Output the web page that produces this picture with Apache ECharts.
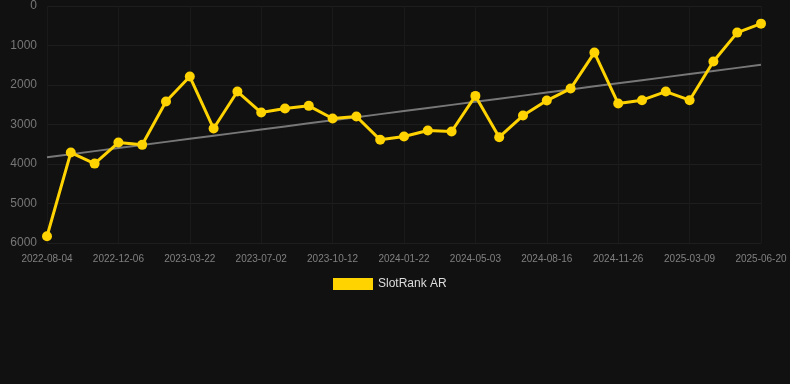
<!DOCTYPE html>
<html>
<head>
<meta charset="utf-8">
<script src="https://cdn.jsdelivr.net/npm/echarts@6/dist/echarts.min.js"></script>
<style>
    html, body { margin: 0; padding: 0; background: #111111; }
    #chart { width: 790px; height: 384px; }
</style>
</head>
<body>
<div id="chart"></div>
<script>
    var dates = [
        '2022-08-04', '2022-09-15', '2022-10-27',
        '2022-12-06', '2023-01-10', '2023-02-14',
        '2023-03-22', '2023-04-25', '2023-05-28',
        '2023-07-02', '2023-08-05', '2023-09-08',
        '2023-10-12', '2023-11-15', '2023-12-19',
        '2024-01-22', '2024-02-25', '2024-03-30',
        '2024-05-03', '2024-06-06', '2024-07-11',
        '2024-08-16', '2024-09-19', '2024-10-23',
        '2024-11-26', '2024-12-30', '2025-02-02',
        '2025-03-09', '2025-04-12', '2025-05-16',
        '2025-06-20'
    ];
    var ranks = [
        5830, 3710, 3990,
        3456, 3515, 2419,
        1787, 3102, 2166,
        2697, 2596, 2528,
        2849, 2798, 3388,
        3304, 3152, 3178,
        2276, 3321, 2773,
        2394, 2090, 1180,
        2469, 2385, 2166,
        2385, 1407, 674,
        447
    ];
    var yTicks = [0, 1000, 2000, 3000, 4000, 5000, 6000];

    // least squares trend over the index
    var n = ranks.length, sx = 0, sy = 0, sxy = 0, sxx = 0;
    for (var i = 0; i < n; i++) {
        sx += i; sy += ranks[i]; sxy += i * ranks[i]; sxx += i * i;
    }
    var slope = (n * sxy - sx * sy) / (n * sxx - sx * sx);
    var icpt = (sy - slope * sx) / n;
    var trend = ranks.map(function(v, i) { return +(icpt + slope * i).toFixed(1); });

    var myChart = echarts.init(document.getElementById('chart'));
    var option = {
        backgroundColor: '#111111',
        animation: false,
        textStyle: { fontFamily: 'Liberation Sans, Arial, sans-serif' },
        grid: { left: 47, right: 29, top: 6, bottom: 141 },
        legend: {
            data: ['SlotRank AR'],
            top: 278,
            left: 333,
            icon: 'rect',
            itemWidth: 40,
            itemHeight: 12,
            itemGap: 10,
            padding: 0,
            textStyle: { color: '#dddddd', fontSize: 12 }
        },
        xAxis: {
            type: 'category',
            data: dates,
            boundaryGap: false,
            axisLine: { show: false },
            axisTick: { show: false },
            axisLabel: { color: '#808080', fontSize: 10, interval: 2, margin: 11 },
            splitLine: { show: true, interval: 2, lineStyle: { color: '#1a1a1a' } }
        },
        yAxis: {
            type: 'value',
            inverse: true,
            min: yTicks[0],
            max: yTicks[yTicks.length - 1],
            interval: 1000,
            axisLine: { show: false },
            axisTick: { show: false },
            axisLabel: {
                color: '#777777',
                fontSize: 12,
                margin: 10,
                formatter: function(v) { return String(v); }
            },
            splitLine: { lineStyle: { color: '#1e1e1e' } }
        },
        series: [
            {
                name: 'Trend',
                type: 'line',
                data: trend,
                symbol: 'none',
                silent: true,
                lineStyle: { color: '#777777', width: 2 },
                z: 1
            },
            {
                name: 'SlotRank AR',
                type: 'line',
                data: ranks,
                symbol: 'circle',
                symbolSize: 10,
                itemStyle: { color: '#FFD300' },
                lineStyle: { color: '#FFD300', width: 3 },
                z: 2
            }
        ]
    };
    myChart.setOption(option);
</script>
</body>
</html>
